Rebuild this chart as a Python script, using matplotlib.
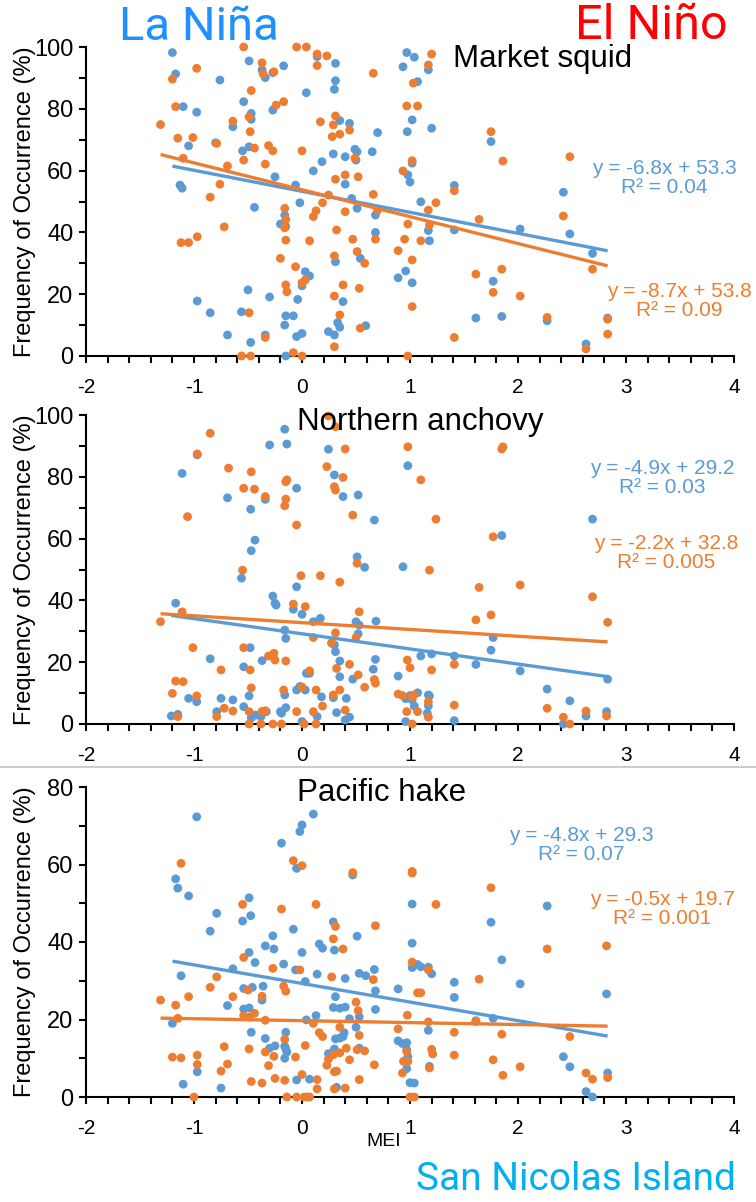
import matplotlib
matplotlib.use("Agg")
import matplotlib.pyplot as plt
from matplotlib.lines import Line2D
from matplotlib.ticker import MultipleLocator

plt.rcParams['font.family'] = ['Liberation Sans', 'DejaVu Sans']
plt.rcParams['axes.unicode_minus'] = False

BLUE = '#5B9BD5'
ORANGE = '#ED7D31'

# ---- Market squid ----
squid_x_a = [-1.20, -1.17, -1.10, -0.975, -1.05, -0.80, -0.76, -0.49, -0.54, -0.47, -0.47, -0.49, -0.55, -0.64,
             -0.37, -0.34, -0.27, -0.17, -0.27, -0.25, -0.06, 0.04, 0.14, 0.31, 0.31, 0.30, 0.35, 0.44, 0.29,
             0.40, 0.49, 0.51, 0.50, 0.185, 0.105, 0.40, 0.70, 0.65, -1.13, -1.11, 0.46,
             -0.44, -0.16, -0.15, -0.20, -0.02, 0.51, 0.68, 0.68, 0.54, 0.31, 0.03, 0.07, 0.0, -0.04, 0.38,
             -0.50, -0.97, -0.30, -0.85, -0.56, -0.15, -0.08, -0.16, -0.69, -0.475, -0.34, -0.05, 0.0, 0.245,
             0.30, 0.33, 0.35, 0.59, -0.15,
             0.97, 1.04, 0.935, 1.17, 1.07, 1.02, 0.975, 1.20, 1.75, 1.02, 0.98, 1.0, 1.41, 2.42,
             1.10, 1.17, 1.18, 1.41, 2.02, 2.48, 2.69, 0.89, 0.96, 1.02, 1.61, 1.77, 1.85, 2.27, 2.63, 2.83]
squid_y_a = [98.2, 91.3, 80.7, 78.9, 68, 69, 89.3, 95.5, 82.3, 78.5, 76.6, 67.7, 66.4, 74.2,
             92.6, 90.1, 91.7, 93.9, 79.6, 58, 55.3, 85.2, 96.9, 94.7, 89.1, 86.3, 76.2, 75.3, 65.4,
             64.5, 66.9, 66.1, 63.4, 62.9, 59.9, 55.6, 72.3, 66.1, 55.3, 54.3, 51,
             48.1, 45.6, 41.9, 42.7, 49.6, 47.8, 45.6, 40, 31.6, 30.5, 27.3, 25.9, 22.7, 18.3, 17.6,
             21.4, 17.8, 19.1, 14, 14.3, 13, 13, 10, 6.8, 4.4, 6.8, 6.3, 7.3, 7.9,
             6.8, 10.8, 9.3, 9.8, 0,
             98.2, 96.7, 93.6, 92.6, 88.8, 76.4, 72.6, 73.7, 69.4, 62.4, 58.6, 56.3, 55.2, 53,
             49.9, 40.6, 37.3, 40.8, 41.1, 39.5, 33.2, 25.3, 27.5, 23.7, 12.3, 24.2, 12.8, 11.4, 3.9, 12.3]
squid_x_b = [-1.31, -1.20, -1.17, -1.15, -0.975, -1.01, -1.10, -0.79, -0.69, -0.76, -0.85, -0.64, -0.54, -0.47,
             -0.49, -0.48, -0.44, -0.54, -0.37, -0.36, -0.26, -0.24, -0.17, -0.31, -0.27, -0.34, -0.05, 0.04,
             0.14, 0.14, 0.23, 0.0, 0.17, 0.29, 0.31, 0.28, 0.35, 0.44, 0.49, 0.31, 0.40, 0.52, 0.66, 0.66, 0.245,
             -1.12, -1.05, -0.97, -0.72, -0.16, -0.15, -0.16, -0.15, -0.20, 0.13, 0.105, 0.19, 0.07, 0.32, 0.40,
             0.47, 0.51, 0.58, 0.30, -0.06, 0.0, 0.03, -0.15, -0.14, 0.38, 0.30, 0.53, -0.49, 0.35, 0.54, -0.34,
             0.30, -0.56, -0.475, -0.08, 0.0, 0.68,
             1.20, 1.17, 1.03, 0.97, 1.07, 1.75, 1.86, 2.48, 1.02, 0.935, 1.41,
             0.70, 1.24, 1.17, 0.98, 1.18, 0.95, 1.10, 0.89, 1.02, 1.64, 2.42, 1.61, 1.85, 1.77, 2.02, 1.02,
             2.27, 1.41, 2.69, 2.83, 2.83, 2.63, 0.98]
squid_y_b = [74.9, 89.6, 80.7, 70.5, 93.1, 70.7, 64, 68.8, 61.5, 55.6, 51.4, 76, 100, 85.9,
             77.4, 72.6, 67.3, 63.4, 94.9, 91.3, 92, 81.2, 82.3, 68.1, 66.4, 62.1, 100, 100,
             97.7, 94, 97.1, 66.4, 75.8, 74.8, 77.7, 71, 71.8, 73.1, 64, 57.2, 58.6, 58, 91.5, 52.3, 52.1,
             36.7, 36.7, 38.6, 41.8, 47.8, 44.2, 41.5, 37.5, 31.6, 47, 45.1, 49.6, 37.3, 40.8, 46.7,
             37.8, 33.8, 30, 32.4, 28.9, 23.7, 24.6, 23, 20.8, 23, 19.4, 21.9, 14, 13.3, 9, 6,
             3, 0, 0, 1.1, 0, 37.8,
             97.7, 94.2, 88.3, 80.9, 80.9, 72.6, 63.1, 64.5, 63.2, 59.9, 53.5,
             47.2, 49.6, 47.2, 42.7, 42.4, 37.8, 37.3, 34.1, 31.1, 44.2, 45.3, 26.5, 28.1, 20.6, 19.4, 16,
             12.5, 6, 28.1, 11.9, 7.1, 2.3, 0]

# ---- Northern anchovy ----
anch_x_a = [-0.16, -0.14, -0.30, -1.11, -0.97, -0.69, -0.34, -0.05, 0.245, 0.30, 0.38, 0.52, -0.475, -0.435,
            -0.47, -0.56, -0.05, 0.51, 0.58, 0.67, -1.17, -0.27, -0.25, -0.24, -0.08, 0.0, 0.105, 0.17, 0.50,
            0.53, 0.685, -0.16, -0.15, 0.30, 0.31, 0.35, 0.35, -0.48, -0.85, -0.54, -0.37, 0.47, 0.68, 0.66,
            0.04, 0.07, -0.01, -0.05, -0.16, -0.49, -0.54, -1.05, -0.975, -1.21, -1.15, -0.75, -0.64, -0.79,
            -0.47, -0.43, -0.19, 0.18, 0.29, 0.32, 0.41, 0.40, 0.44, 0.14, 0.0, -0.38, -0.33, -0.20, -0.15,
            -0.02, 0.03, 0.52, 0.275,
            0.98, 2.69, 1.85, 0.935, 1.10, 1.20, 1.41, 1.61, 1.77, 1.75, 2.02, 0.89, 2.27, 2.48, 2.83, 1.0,
            1.07, 1.18, 0.96, 1.02, 1.04, 1.17, 1.41, 0.96, 2.42, 2.63, 2.82, 1.17, 1.16]
anch_y_a = [95.4, 90.6, 90.3, 81.1, 87.1, 73.2, 72.7, 76.3, 88.9, 80.6, 73.6, 74.1, 69.5, 59.5,
            56.1, 47.2, 44.4, 54.1, 50.7, 66, 39.1, 41.4, 39.1, 38.5, 37.1, 35.5, 33.1, 34.2, 33.1,
            32, 33.3, 30.4, 27.7, 25.6, 23.4, 20.4, 15.3, 24.7, 21.1, 18.5, 20.5, 14.5, 20.9, 17.7,
            16.4, 16.4, 12.1, 11, 9.4, 9.1, 5.6, 8.3, 7.2, 2.6, 3.1, 8.3, 7.8, 4,
            2, 2.9, 3.5, 8.8, 8.5, 3.7, 8.3, 1.3, 2.2, 2.4, 0.8, 2.4, 4, 4, 5.3,
            12.1, 11, 29.2, 26.1,
            83.6, 66.3, 61, 50.9, 22, 22.7, 22, 19.3, 28, 23.9, 17.2, 15.5, 11.3, 7.5, 14.5, 9.2,
            10.1, 9.1, 8.2, 7.8, 5.8, 5.9, 1.1, 0.8, 0, 2.6, 4, 9.4, 3.5]
anch_x_b = [-0.85, -0.97, -1.06, -0.68, -0.47, -0.54, -0.44, -0.34, -0.15, -0.14, -0.15, -0.16, -0.05, 0.245,
            0.31, 0.40, 0.23, 0.30, 0.31, 0.38, 0.47, 0.51, -0.55, -0.01, 0.17, 0.35, -0.08, 0.03, 0.53,
            -1.31, -1.11, 0.105, 0.31, 0.275, 0.50, -1.01, -0.54, -0.26, -0.31, -0.25, -0.15, -0.75, -0.48,
            0.07, 0.32, 0.44, 0.52, -1.17, -1.10, -1.20, -0.975, -0.47, -0.17, 0.0, 0.13, 0.29, 0.35, 0.58,
            0.67, 0.68, -0.72, -0.64, -1.15, -0.79, -0.49, -0.37, -0.34, -0.05, 0.105, 0.19, 0.40,
            -0.49, -0.38, -0.27, -0.19, 0.02, 0.13,
            0.98, 1.86, 1.85, 1.10, 1.24, 1.77, 1.18, 1.64, 2.02, 2.69, 1.61, 1.75, 2.83, 0.975, 1.0, 1.20,
            1.41, 0.89, 0.93, 1.02, 1.04, 1.17, 1.41, 0.97, 1.07, 1.17, 2.27, 2.42, 2.63, 2.82, 2.48, 1.02]
anch_y_b = [94.1, 87.4, 67.1, 82.8, 81.6, 76.3, 76, 73.6, 78.4, 79, 72.8, 70.6, 64.4, 99.7,
            96.2, 89, 83.3, 76.8, 75.7, 79.8, 67.6, 52, 49.8, 48, 48, 45.9, 38.8, 38, 36.3,
            33.1, 36.3, 28, 29.5, 26.3, 28, 24.7, 24.7, 22.9, 22, 20.7, 20.4, 17.5, 17.5,
            17.2, 18, 19.3, 15.9, 13.9, 13.7, 9.9, 9.1, 11.7, 11, 11.9, 11, 9.4, 11, 11.9,
            14.4, 13.2, 5.1, 4.2, 2.4, 2.4, 4, 4.1, 4.3, 4, 4, 5.8, 4.5,
            0, 0, 0, 0, 0, 0,
            89.7, 89.7, 89, 79, 66.3, 60.6, 49.8, 44.2, 45, 41.2, 33.7, 35.3, 32.9, 20.7, 18.2, 17.5,
            19.3, 9.7, 9.2, 8.8, 9.5, 7.2, 6.1, 4, 4, 2.2, 5.1, 2.2, 4.2, 2.6, 0, 0]

# ---- Pacific hake ----
hake_x_a = [-0.975, 0.105, 0.0, -0.02, -0.19, -0.05, -1.17, -1.15, -1.05, -0.79, -0.85, -0.49, -0.475, -0.55,
            -0.08, 0.29, 0.51, -0.27, 0.16, 0.19, -0.26, -0.34, -0.49, -0.435, 0.30, -0.17, 0.0, -0.64, -0.06,
            0.03, 0.14, 0.40, 0.53, 0.59, 0.67, -1.12, -0.54, -0.46, -0.36, -0.37, 0.31, 0.68, -0.69, -0.54,
            -0.49, 0.29, 0.35, 0.40, 0.68, 0.13, 0.04, 0.44, 0.53, -1.20, 0.50, -0.47, -0.15, -0.34, 0.31,
            0.35, 0.38, 0.39, -0.16, -0.15, -0.14, -0.30, -0.25, 0.30, 0.245, 0.53, -0.16, -0.97, -1.10,
            -0.75, -0.05, 0.07, 0.32, 0.47,
            1.02, 2.27, 1.75, 1.02, 1.85, 1.02, 1.07, 1.10, 1.17, 1.20, 0.89, 1.41, 1.41, 2.02, 2.82, 1.61,
            1.77, 1.17, 0.89, 0.93, 0.97, 0.97, 0.97, 1.0, 1.04, 1.18, 2.42, 2.48, 2.63, 2.69, 2.83, 0.98]
hake_y_a = [72.3, 73, 70.2, 68.5, 65.5, 59, 56.3, 53.9, 51.9, 47.4, 42.8, 51.4, 46.8, 45.4,
            43.3, 45.2, 41.5, 41.6, 39.5, 38.4, 38.2, 39, 37.3, 34.7, 37.9, 34.3, 37.3, 33.1, 32.8,
            29.8, 31.7, 30.6, 31.9, 31.3, 32.9, 31.3, 28, 28.3, 28.6, 25, 25.9, 27.4, 23.6, 22.7,
            23, 23.1, 22.9, 23.2, 22.6, 21, 19.9, 20.2, 20.7, 19, 18, 16.7, 16.7, 15.1, 15,
            15.2, 15.6, 16.6, 13.1, 12.4, 11.6, 12.6, 13.2, 12.4, 11.2, 12.6, 10, 6.5, 3.3,
            2.3, 4.4, 4.6, 2.5, 57.3,
            49.8, 49.3, 45.1, 39.7, 35.4, 33.4, 34.2, 33.6, 33.5, 31.8, 27.9, 29.6, 25.7, 29.2, 26.6, 19.7,
            20.3, 17.2, 14.5, 13.8, 14, 12.2, 7.3, 3.7, 3.6, 7.9, 10.4, 7.8, 1.4, 0, 6.2, 10.4]
hake_x_b = [-1.12, -0.08, 0.0, 0.47, -0.55, -0.19, 0.13, 0.68, 0.31, 0.29, 0.38, -0.54, -0.27, -0.02,
            -0.79, 0.275, 0.66, -0.85, -0.17, -0.15, -0.50, -0.64, -0.37, -1.31, -1.17, -1.05, 0.50, 0.52,
            -1.15, -0.54, -0.49, -0.44, -0.34, 0.105, 0.35, 0.53, 0.16, 0.19, -0.16, -1.20, -1.12, -0.97,
            -0.97, -0.72, -0.69, -0.75, -0.49, -0.34, -0.26, -0.31, -0.06, 0.03, 0.29, 0.35, 0.245, 0.23,
            0.30, 0.32, 0.41, 0.44, 0.51, 0.58, 0.67, 0.0, -0.47, -0.37, -0.25, -0.16, 0.14, 0.14, 0.30,
            0.40, 0.53, -1.0, -0.14, -0.05, 0.02, 0.05, 0.07,
            1.02, 1.02, 1.75, 1.24, 2.27, 2.82, 1.02, 1.17, 1.64, 1.07, 1.10, 0.975, 1.17, 1.61, 2.48, 0.89,
            1.41, 1.85, 0.97, 1.20, 1.41, 1.77, 0.94, 0.98, 1.18, 2.02, 0.93, 1.86, 2.63, 2.69, 2.83, 1.0,
            1.04, 1.21]
hake_y_b = [60.3, 61, 59.7, 57.9, 49.7, 48.5, 49.7, 44.2, 44, 40.8, 38.2, 36, 33.2, 32.8,
            31, 31, 30.3, 28.3, 28.6, 27.3, 27.6, 25.9, 26, 25, 23.7, 25.9, 24.5, 22.3,
            20.3, 21, 20.6, 21.6, 19.8, 19, 18, 15.9, 16.6, 15.6, 14.9, 10.3, 10.1, 10.8,
            8.4, 13, 8.5, 6.7, 12.4, 11.6, 10.5, 8.1, 10.3, 13.3, 10.9, 11.4, 9.8, 8.2,
            6.5, 6.7, 12.6, 9.6, 12.2, 11.9, 8.3, 5.8, 4, 3.6, 4.8, 4.3, 4.5, 2.1, 2.1,
            2.3, 4.5, 0, 0, 0, 0, 0, 0,
            58.2, 57.8, 54, 49.7, 38.2, 39, 34.8, 32.8, 30.4, 26.9, 26.9, 21.1, 19.4, 19.5, 15.6, 17.6,
            16.7, 16.2, 11.8, 12.3, 10.8, 9.6, 9.2, 9.2, 7.5, 7.8, 6.2, 5.6, 6.2, 4.6, 5, 0,
            0, 11.1]

# trendline fits as printed on the chart: (slope, intercept, R²)
fit_a = [(-6.8, 53.3, '0.04'), (-4.9, 29.2, '0.03'), (-4.8, 29.3, '0.07')]
fit_b = [(-8.7, 53.8, '0.09'), (-2.2, 32.8, '0.005'), (-0.5, 19.7, '0.001')]

species = ['Market squid', 'Northern anchovy', 'Pacific hake']
series_a = [(squid_x_a, squid_y_a), (anch_x_a, anch_y_a), (hake_x_a, hake_y_a)]
series_b = [(squid_x_b, squid_y_b), (anch_x_b, anch_y_b), (hake_x_b, hake_y_b)]
ymax = [100, 100, 80]

W, H = 756, 1202
fig = plt.figure(figsize=(W / 100, H / 100), dpi=100)

# panel boxes in pixels: (top, bottom)
boxes = [(47, 356), (415, 724), (787, 1097)]
left_px, right_px = 86, 734
title_pos = [(1.40, 96), (-0.05, 97.7), (-0.05, 78.5)]
# equation label centres in pixels
eq_a_pos = [(664, 178), (662, 478), (581, 845)]
eq_b_pos = [(679, 301), (666, 553), (662, 909)]


def eq_text(m, b, r2):
    return f"y = {m}x + {b}\nR² = {r2}"


for i in range(3):
    top, bot = boxes[i]
    ax = fig.add_axes([left_px / W, 1 - bot / H, (right_px - left_px) / W, (bot - top) / H])
    xa, ya = series_a[i]
    xb, yb = series_b[i]
    ax.scatter(xa, ya, s=40, color=BLUE, edgecolors='none', zorder=3, clip_on=False)
    ax.scatter(xb, yb, s=40, color=ORANGE, edgecolors='none', zorder=3, clip_on=False)

    for (xs, _), (m, b, _), c in [((xa, ya), fit_a[i], BLUE), ((xb, yb), fit_b[i], ORANGE)]:
        x0, x1 = min(xs), max(xs)
        ax.plot([x0, x1], [m * x0 + b, m * x1 + b], color=c, lw=2.4, zorder=4,
                solid_capstyle='butt')

    ax.set_xlim(-2, 4)
    ax.set_ylim(0, ymax[i])
    ax.xaxis.set_major_locator(MultipleLocator(1))
    ax.xaxis.set_minor_locator(MultipleLocator(0.2))
    ax.yaxis.set_major_locator(MultipleLocator(20))
    ax.yaxis.set_minor_locator(MultipleLocator(10))
    for s in ['top', 'right']:
        ax.spines[s].set_visible(False)
    for s in ['left', 'bottom']:
        ax.spines[s].set_linewidth(1.5)
        ax.spines[s].set_zorder(2)
    ax.tick_params(axis='both', which='both', direction='out', width=1.5, length=5)
    ax.tick_params(axis='x', which='major', labelsize=15, pad=11)
    ax.tick_params(axis='y', which='major', labelsize=17, pad=4)
    ax.patch.set_alpha(0)

    ax.set_ylabel('Frequency of Occurrence (%)', fontsize=17)
    ax.yaxis.set_label_coords(-0.077, 0.5)

    tx, ty = title_pos[i]
    ax.text(tx, ty, species[i], fontsize=22.5, ha='left', va='center', color='black')

    for pos, fit, c in [(eq_a_pos[i], fit_a[i], BLUE), (eq_b_pos[i], fit_b[i], ORANGE)]:
        fig.text(pos[0] / W, 1 - pos[1] / H, eq_text(*fit), color=c, fontsize=15,
                 ha='center', va='center', multialignment='center', linespacing=1.05)

fig.text(384 / W, 1 - 1141 / H, 'MEI', fontsize=14, ha='center', va='center')

# divider above the hake panel
fig.add_artist(Line2D([0, 1], [1 - 767 / H, 1 - 767 / H], transform=fig.transFigure,
                      color='#CCCCCC', lw=1.5))

fig.text(199 / W, 1 - 27 / H, 'La Niña', fontsize=34, color='#1E90FF', ha='center', va='center',
         family=['Roboto', 'DejaVu Sans'])
fig.text(651 / W, 1 - 26 / H, 'El Niño', fontsize=35, color='#FF0000', ha='center', va='center',
         family=['Roboto', 'DejaVu Sans'])
fig.text(576 / W, 1 - 1180 / H, 'San Nicolas Island', fontsize=28, color='#00B0F0', ha='center',
         va='center', family=['Roboto', 'DejaVu Sans'])

fig.savefig('out.png', dpi=100)
